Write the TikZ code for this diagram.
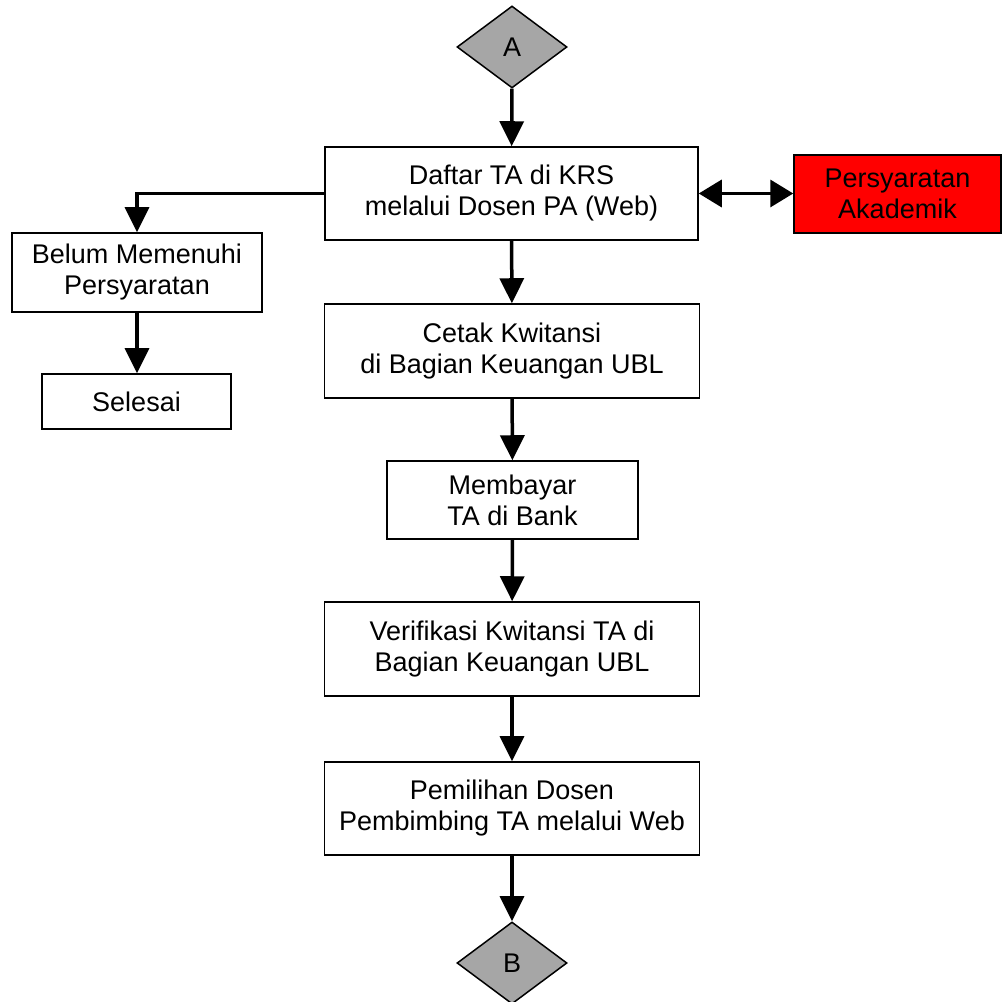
\documentclass[tikz,border=0pt]{standalone}
\usepackage{fontspec}
\setmainfont{Liberation Sans}
\usetikzlibrary{shapes.geometric,arrows.meta}
\definecolor{abu}{HTML}{A6A6A6}
\definecolor{merah}{HTML}{FF0000}
\begin{document}
\begin{tikzpicture}[x=1pt,y=1pt,
  kotak/.style={draw, line width=1.5pt, align=center, inner sep=0pt, font=\fontsize{27}{31}\selectfont},
  konektor/.style={diamond, draw, line width=1.5pt, fill=abu, inner sep=0pt, minimum width=110pt, minimum height=82pt, font=\fontsize{27}{31}\selectfont},
  panah/.style={line width=3.5pt, -{Triangle[length=25pt,width=24pt]}},
  panah2/.style={line width=3.5pt, {Triangle[length=23pt,width=27pt]}-{Triangle[length=23pt,width=27pt]}}]
\useasboundingbox (0,0) rectangle (1003,1001);
\node[konektor] (A) at (512,954) {A};
\node[kotak, minimum width=373pt, minimum height=93pt] (daftar) at (511.5,807.5) {Daftar TA di KRS\\melalui Dosen PA (Web)};
\node[kotak, fill=merah, minimum width=207pt, minimum height=78pt] (syarat) at (897.5,807) {Persyaratan\\Akademik};
\node[kotak, minimum width=250pt, minimum height=79pt] (belum) at (137,728.5) {Belum Memenuhi\\Persyaratan};
\node[kotak, minimum width=189pt, minimum height=55pt] (selesai) at (136.5,599.5) {Selesai};
\node[kotak, minimum width=375pt, minimum height=94pt] (cetak) at (512,650) {Cetak Kwitansi\\di Bagian Keuangan UBL};
\node[kotak, minimum width=251pt, minimum height=78pt] (bayar) at (512.5,501) {Membayar\\TA di Bank};
\node[kotak, minimum width=375pt, minimum height=94pt] (verif) at (512,352) {Verifikasi Kwitansi TA di\\Bagian Keuangan UBL};
\node[kotak, minimum width=375pt, minimum height=93pt] (pilih) at (512,192.5) {Pemilihan Dosen\\Pembimbing TA melalui Web};
\node[konektor] (B) at (512,38) {B};
\draw[panah] (A) -- (daftar);
\draw[panah] (daftar.west) -| (belum.north);
\draw[panah] (belum) -- (belum |- selesai.north);
\draw[panah2] (daftar.east) -- (daftar.east -| syarat.west);
\draw[panah] (daftar) -- (cetak);
\draw[panah] (cetak) -- (bayar);
\draw[panah] (bayar) -- (verif);
\draw[panah] (verif) -- (pilih);
\draw[panah] (pilih) -- (B);
\end{tikzpicture}
\end{document}
